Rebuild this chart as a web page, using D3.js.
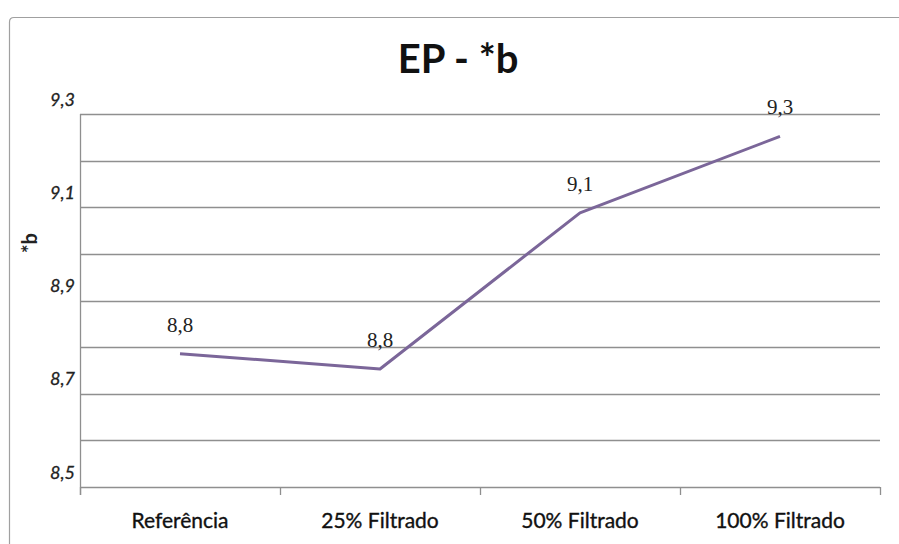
<!DOCTYPE html>
<html>
<head>
<meta charset="utf-8">
<script src="https://cdn.jsdelivr.net/npm/d3@7"></script>
<style>
  html, body { margin: 0; padding: 0; background: #fff; }
  svg { display: block; }
</style>
</head>
<body>
<svg id="chart" width="899" height="544"></svg>
<script>
// Categories and the *b values measured for each filtering level
const categories = ["Referência", "25% Filtrado", "50% Filtrado", "100% Filtrado"];
const values = [8.786, 8.753, 9.088, 9.252];
const yTickValues = [8.5, 8.7, 8.9, 9.1, 9.3];
const yGridValues = [8.5, 8.6, 8.7, 8.8, 8.9, 9.0, 9.1, 9.2, 9.3];
const chartTitle = "EP - *b";
const yAxisTitle = "*b";

const svg = d3.select("#chart");
const W = 899, H = 544;
const plot = { left: 80, right: 880, top: 114, bottom: 487 };

const fmt = v => d3.format(".1f")(v).replace(".", ",");

// Outer chart frame (extends past the right and bottom edges)
svg.append("path")
  .attr("d", `M9.5,${H + 5} L9.5,22 Q9.5,17.5 14,17.5 L${W + 5},17.5`)
  .attr("fill", "none")
  .attr("stroke", "#a0a0a0")
  .attr("stroke-width", 1.2);

const x = d3.scaleBand().domain(categories).range([plot.left, plot.right]);
const y = d3.scaleLinear().domain([8.5, 9.3]).range([plot.bottom, plot.top]);

// Horizontal gridlines
svg.append("g")
  .selectAll("line")
  .data(yGridValues.filter(v => v > 8.5))
  .join("line")
  .attr("x1", plot.left)
  .attr("x2", plot.right)
  .attr("y1", d => Math.round(y(d)) + 0.5)
  .attr("y2", d => Math.round(y(d)) + 0.5)
  .attr("stroke", "#8f8f8f")
  .attr("stroke-width", 1.3);

// Y axis: line only, labels placed separately
const yAxis = d3.axisLeft(y).tickValues(yTickValues).tickSize(0).tickFormat("");
svg.append("g")
  .attr("transform", `translate(${plot.left + 0.5},0)`)
  .call(yAxis)
  .call(g => g.select(".domain").attr("stroke", "#8f8f8f").attr("stroke-width", 1.3)
    .attr("d", `M0,${plot.top}V${plot.bottom + 8}`));

svg.append("g")
  .selectAll("text")
  .data(yTickValues)
  .join("text")
  .attr("x", 75)
  .attr("y", d => y(d) - 13)
  .attr("text-anchor", "end")
  .attr("dominant-baseline", "middle")
  .attr("font-family", "Lato, 'Open Sans', sans-serif")
  .attr("font-style", "italic")
  .attr("font-size", 18)
  .attr("fill", "#222")
  .attr("stroke", "#222")
  .attr("stroke-width", 0.3)
  .text(fmt);

// X axis with tick marks at the category boundaries
const xAxis = d3.axisBottom(x).tickSize(0).tickFormat("");
const xg = svg.append("g")
  .attr("transform", `translate(0,${Math.round(plot.bottom) + 0.5})`)
  .call(xAxis);
xg.select(".domain").attr("stroke", "#8f8f8f").attr("stroke-width", 1.3)
  .attr("d", `M${plot.left},0H${plot.right}`);
xg.selectAll(".tick").remove();

const boundaries = categories.map(c => x(c)).concat([x(categories[categories.length - 1]) + x.bandwidth()]);
svg.append("g")
  .selectAll("line")
  .data(boundaries)
  .join("line")
  .attr("x1", d => Math.round(d) + 0.5)
  .attr("x2", d => Math.round(d) + 0.5)
  .attr("y1", plot.bottom)
  .attr("y2", plot.bottom + 8)
  .attr("stroke", "#8f8f8f")
  .attr("stroke-width", 1.3);

svg.append("g")
  .selectAll("text")
  .data(categories)
  .join("text")
  .attr("x", d => x(d) + x.bandwidth() / 2)
  .attr("y", 528)
  .attr("text-anchor", "middle")
  .attr("font-family", "Lato, 'Open Sans', sans-serif")
  .attr("font-size", 21)
  .attr("fill", "#111")
  .attr("stroke", "#111")
  .attr("stroke-width", 0.35)
  .text(d => d);

// Data line
const line = d3.line()
  .x((d, i) => x(categories[i]) + x.bandwidth() / 2)
  .y(d => y(d));

svg.append("path")
  .datum(values)
  .attr("d", line)
  .attr("fill", "none")
  .attr("stroke", "#7b6699")
  .attr("stroke-width", 3)
  .attr("stroke-linejoin", "round");

// Value labels above each point
svg.append("g")
  .selectAll("text")
  .data(values)
  .join("text")
  .attr("x", (d, i) => x(categories[i]) + x.bandwidth() / 2)
  .attr("y", d => y(d) - 22)
  .attr("text-anchor", "middle")
  .attr("font-family", "'Liberation Serif', 'DejaVu Serif', serif")
  .attr("font-size", 21)
  .attr("fill", "#222")
  .text(fmt);

// Title
svg.append("text")
  .attr("x", 458)
  .attr("y", 73)
  .attr("text-anchor", "middle")
  .attr("font-family", "Lato, 'Open Sans', sans-serif")
  .attr("font-weight", "bold")
  .attr("font-size", 40)
  .attr("fill", "#111")
  .text(chartTitle);

// Y axis title
svg.append("text")
  .attr("transform", "translate(37,243) rotate(-90)")
  .attr("text-anchor", "middle")
  .attr("font-family", "Lato, 'Open Sans', sans-serif")
  .attr("font-weight", "bold")
  .attr("font-size", 20)
  .attr("fill", "#222")
  .text(yAxisTitle);
</script>
</body>
</html>
